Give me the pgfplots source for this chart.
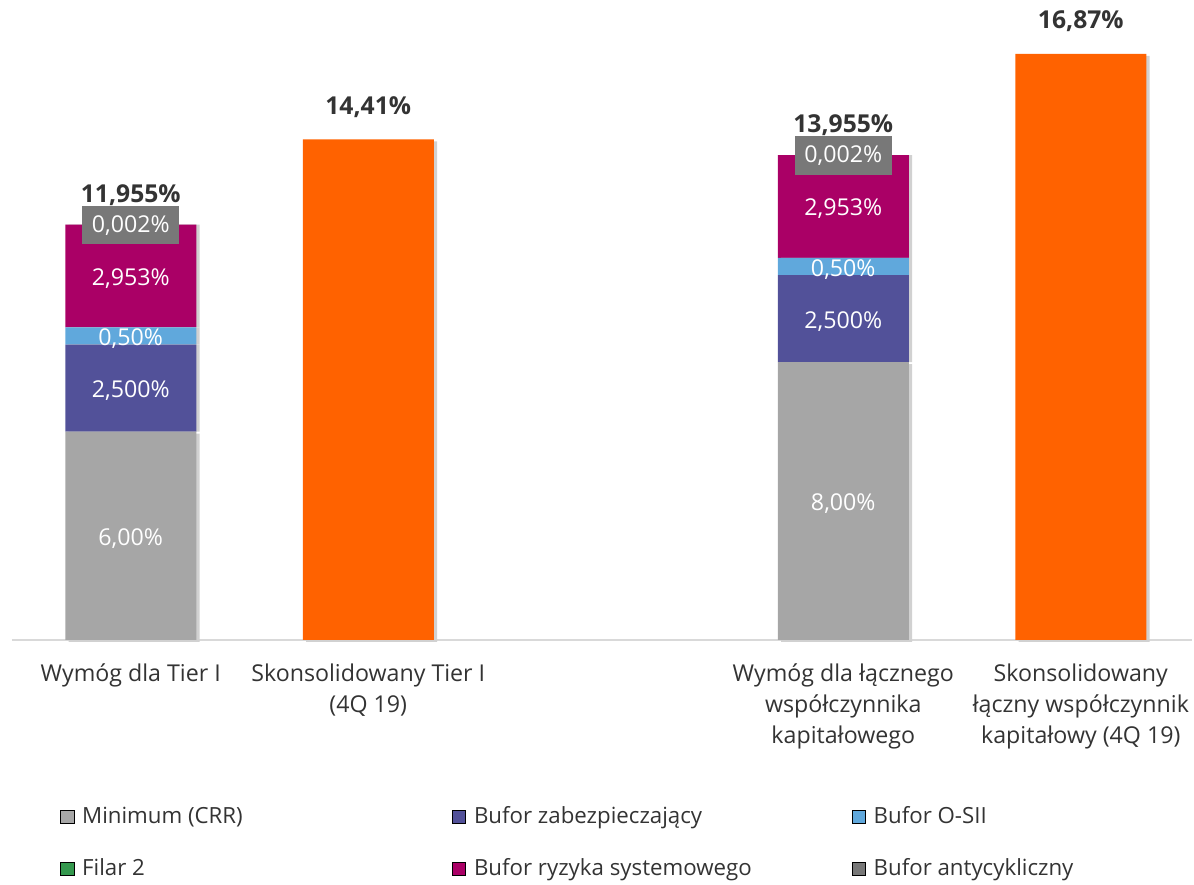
\documentclass[border=0pt]{standalone}
\usepackage{pgfplots}
\pgfplotsset{compat=1.18}
\usepackage{fontspec}
\setmainfont{Open Sans}
\definecolor{cMin}{HTML}{A6A6A6}
\definecolor{cZab}{HTML}{525199}
\definecolor{cOsii}{HTML}{60A8DC}
\definecolor{cFil}{HTML}{34984E}
\definecolor{cRyz}{HTML}{AA0066}
\definecolor{cAnt}{HTML}{787878}
\definecolor{cOra}{HTML}{FF6200}
\definecolor{txt}{HTML}{333333}
\definecolor{lineGray}{HTML}{D9D9D9}
\begin{document}
\begin{tikzpicture}[x=1pt,y=1pt]
\useasboundingbox (0,0) rectangle (895.5,663);
\begin{axis}[
  at={(9pt,183pt)}, anchor=south west,
  scale only axis, width=885.3pt, height=469.1pt,
  ybar stacked, bar width=98.25pt,
  xmin=-0.5, xmax=4.47, ymin=0, ymax=18,
  clip=false,
  axis y line=none, axis x line=bottom,
  x axis line style={draw=lineGray, line width=1pt, -},
  xtick={0,1,3,4}, xtick style={draw=none},
  xticklabels={Wymóg dla Tier I, Skonsolidowany Tier I\\(4Q 19), Wymóg dla łącznego\\współczynnika\\kapitałowego, Skonsolidowany\\łączny współczynnik\\kapitałowy (4Q 19)},
  xticklabel style={align=center, font=\fontsize{17.4}{23.2}\selectfont, text=txt, anchor=north, yshift=-12pt},
  legend columns=3,
  legend cell align=left,
  legend image code/.code={\fill[#1] (0pt,-5.5pt) rectangle (10pt,4.5pt);},
  legend style={at={(0.0407,-0.262)}, anchor=north west, draw=none, fill=none,
    font=\fontsize{16.7}{19.5}\selectfont, text=txt, inner sep=0pt, row sep=20.5pt,
    /tikz/column 1/.style={column sep=4pt},
    /tikz/column 2/.style={column sep=155pt},
    /tikz/column 3/.style={column sep=4pt},
    /tikz/column 4/.style={column sep=73pt},
    /tikz/column 5/.style={column sep=4pt}},
  sh/.style={preaction={fill=black!18, transform canvas={xshift=2.5pt}}},
  shb/.style={preaction={fill=black!18, transform canvas={xshift=2.5pt, yshift=-1.5pt}}},
]
\addplot[fill=cMin, draw=none, shb, forget plot] coordinates {(0,6) (1,0) (3,8) (4,0)};
\addplot[fill=cZab, draw=none, sh, forget plot] coordinates {(0,2.5) (1,0) (3,2.5) (4,0)};
\addplot[fill=cOsii, draw=none, sh, forget plot] coordinates {(0,0.5) (1,0) (3,0.5) (4,0)};
\addplot[fill=cFil, draw=none, forget plot] coordinates {(0,0) (1,0) (3,0) (4,0)};
\addplot[fill=cRyz, draw=none, sh, forget plot] coordinates {(0,2.953) (1,0) (3,2.953) (4,0)};
\addplot[fill=cAnt, draw=none, forget plot] coordinates {(0,0.002) (1,0) (3,0.002) (4,0)};
\addplot[fill=cOra, draw=none, shb, forget plot] coordinates {(0,0) (1,14.41) (3,0) (4,16.87)};
\addlegendimage{fill=cMin}\addlegendentry{Minimum (CRR)}
\addlegendimage{fill=cZab}\addlegendentry{Bufor zabezpieczający}
\addlegendimage{fill=cOsii}\addlegendentry{Bufor O-SII}
\addlegendimage{fill=cFil}\addlegendentry{Filar 2}
\addlegendimage{fill=cRyz}\addlegendentry{Bufor ryzyka systemowego}
\addlegendimage{fill=cAnt}\addlegendentry{Bufor antycykliczny}

\coordinate (a1) at (axis cs:0,3);
\coordinate (a2) at (axis cs:0,7.25);
\coordinate (a3) at (axis cs:0,8.75);
\coordinate (a4) at (axis cs:0,10.48);
\coordinate (a5) at (axis cs:0,11.94);
\coordinate (a6) at (axis cs:0,12.89);
\coordinate (b1) at (axis cs:3,4);
\coordinate (b2) at (axis cs:3,9.25);
\coordinate (b3) at (axis cs:3,10.75);
\coordinate (b4) at (axis cs:3,12.48);
\coordinate (b5) at (axis cs:3,13.94);
\coordinate (b6) at (axis cs:3,14.9);
\coordinate (c1) at (axis cs:1,15.42);
\coordinate (d1) at (axis cs:4,17.9);
\end{axis}
\tikzset{seg/.style={text=white, font=\fontsize{17.4}{20}\selectfont, inner sep=0pt, yshift=-2pt},
         tot/.style={text=txt, font=\fontsize{18.5}{21}\selectfont\bfseries, inner sep=0pt, yshift=-2pt},
         box/.style={fill=cAnt, text=white, font=\fontsize{17.4}{20}\selectfont, minimum width=73pt, minimum height=29pt, inner sep=0pt}}
\node[seg] at (a1) {6,00\%};
\node[seg] at (a2) {2,500\%};
\node[seg] at (a3) {0,50\%};
\node[seg] at (a4) {2,953\%};
\node[box] at (a5) {0,002\%};
\node[tot] at (a6) {11,955\%};
\node[seg] at (b1) {8,00\%};
\node[seg] at (b2) {2,500\%};
\node[seg] at (b3) {0,50\%};
\node[seg] at (b4) {2,953\%};
\node[box] at (b5) {0,002\%};
\node[tot] at (b6) {13,955\%};
\node[tot] at (c1) {14,41\%};
\node[tot] at (d1) {16,87\%};
\end{tikzpicture}
\end{document}
